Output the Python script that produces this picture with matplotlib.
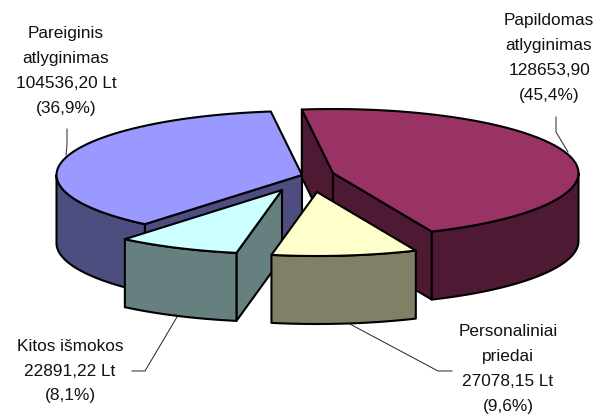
import numpy as np
import matplotlib
matplotlib.use("Agg")
import matplotlib.pyplot as plt

names = ["Papildomas\natlyginimas", "Personaliniai\npriedai", "Kitos išmokos", "Pareiginis\natlyginimas"]
values = [128653.90, 27078.15, 22891.22, 104536.20]
value_labels = ["128653,90", "27078,15 Lt", "22891,22 Lt", "104536,20 Lt"]
percents = ["(45,4%)", "(9,6%)", "(8,1%)", "(36,9%)"]

top_colors = ["#993366", "#FFFFCC", "#CCFFFF", "#9999FF"]
side_colors = ["#4D1933", "#808066", "#668080", "#4D4D80"]

# pie geometry, in pixels
a = 245.5
b = 64
depth = 68
start = -7.3
centers = [(333, 173), (317, 192), (282, 190), (302, 175)]
label_pos = [(549, 58), (508, 369), (70, 371), (66, 71)]
leaders = [
    [(556, 117), (556, 132), (568, 152)],
    [(452, 371), (438, 371), (348, 323)],
    [(132, 371), (145, 371), (177, 317)],
    [(67, 129), (67, 145), (66, 155)],
]

fig = plt.figure(figsize=(6.03, 4.16), dpi=100)
ax = fig.add_axes([0, 0, 1, 1])
ax.set_xlim(0, 603)
ax.set_ylim(416, 0)
ax.axis("off")
plt.rcParams["font.family"] = "Liberation Sans"


def rim(c, t1, t2, n=60):
    t = np.radians(np.linspace(t1, t2, n))
    return c[0] + a * np.sin(t), c[1] - b * np.cos(t)


def face(x, y, color, z):
    ax.fill(x, y, facecolor=color, edgecolor="black", lw=1.5, joinstyle="round", zorder=z)


def cut(c, t, color, z):
    x, y = rim(c, t, t, 1)
    xs = [c[0], x[0], x[0], c[0]]
    ys = [c[1], y[0], y[0] + depth, c[1] + depth]
    face(xs, ys, color, z)


def wall(c, t1, t2, color, z):
    x, y = rim(c, t1, t2)
    xs = np.concatenate([x, x[::-1]])
    ys = np.concatenate([y, y[::-1] + depth])
    face(xs, ys, color, z)


def top(c, t1, t2, color, z):
    x, y = rim(c, t1, t2)
    face(np.r_[c[0], x], np.r_[c[1], y], color, z)


angles = start + np.r_[0, np.cumsum(values)] / np.sum(values) * 360
t = list(zip(angles[:-1], angles[1:]))

# back slices first, then the two pulled out ones
c = centers[3]
cut(c, t[3][0], side_colors[3], 1)
wall(c, t[3][0], 270, side_colors[3], 1)
top(c, t[3][0], t[3][1], top_colors[3], 2)

c = centers[0]
cut(c, t[0][0], side_colors[0], 3)
cut(c, t[0][1], side_colors[0], 3)
wall(c, 90, t[0][1], side_colors[0], 3)
top(c, t[0][0], t[0][1], top_colors[0], 4)

c = centers[2]
cut(c, t[2][0], side_colors[2], 5)
wall(c, t[2][0], t[2][1], side_colors[2], 5)
top(c, t[2][0], t[2][1], top_colors[2], 6)

c = centers[1]
wall(c, t[1][0], t[1][1], side_colors[1], 7)
top(c, t[1][0], t[1][1], top_colors[1], 8)

for line in leaders:
    ax.plot([p[0] for p in line], [p[1] for p in line], color="#222222", lw=0.7, zorder=9)

for i in range(4):
    label = names[i] + "\n" + value_labels[i] + "\n" + percents[i]
    ax.text(label_pos[i][0], label_pos[i][1], label, ha="center", va="center",
            fontsize=12.4, color="#111111", linespacing=1.82, family="Liberation Sans", zorder=10)

fig.savefig("out.png", dpi=100)
